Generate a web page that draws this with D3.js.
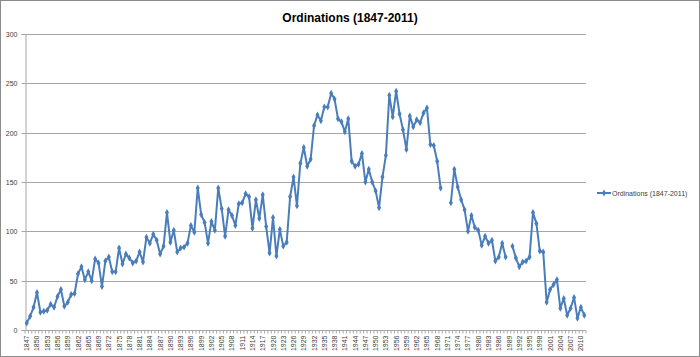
<!DOCTYPE html>
<html><head><meta charset="utf-8">
<script src="https://cdn.jsdelivr.net/npm/d3@7"></script>
<style>body{margin:0;background:#fff}svg{display:block}</style>
</head><body>
<svg id="c" width="700" height="357"></svg>
<script>
const title = "Ordinations (1847-2011)";
const seriesName = "Ordinations (1847-2011)";
const categories = [
 "1847","1848","1849","1850","1851","1852","1853","1854","1855","1856","1857","1858","1859","1860","1861","1862","1863","1864","1865","1866",
 "1868","1869","1870","1871","1872","1873","1874","1875","1876","1877","1878","1879","1880","1881","1882","1883","1884","1885","1886","1887",
 "1888","1889","1890","1891","1892","1893","1894","1895","1896","1897","1898","1899","1900","1901","1902","1903","1904","1905","1906","1907",
 "1908","1909","1910","1911","1912","1913","1914","1915","1916","1917","1918","1919","1920","1921","1922","1923","1924","1925","1926","1927",
 "1928","1929","1930","1931","1932","1933","1934","1935","1936","1937","1938","1939","1940","1941","1942","1943","1944","1945","1946","1947",
 "1948","1949","1950","1951","1952","1953","1954","1955","1956","1957","1958","1959","1960","1961","1962","1963","1964","1965","1966","1967",
 "1968","1969","1970","1971","1972","1973","1974","1975","1976","1977","1978","1979","1980","1981","1982","1983","1984","1985","1986","1987",
 "1988","1989","1990","1991","1992","1993","1994","1995","1996","1997","1998","1999","2000","2001","2002","2003","2004","2005","2006","2007",
 "2008","2009","2010","2011"];
const values = [
 7,14,23,38,18,19,20,26,23,34,41,24,28,36,37,57,64,51,59,50,
 72,68,44,70,74,59,59,83,67,77,73,68,70,79,69,94,88,97,91,77,
 85,119,89,101,79,83,84,88,106,99,144,117,109,88,110,101,144,123,95,122,
 116,106,128,129,138,135,103,132,113,137,105,78,114,75,102,85,89,135,155,126,
 169,185,166,173,207,218,212,226,226,240,234,214,211,201,214,171,166,168,179,150,
 163,150,141,124,155,177,238,216,242,219,203,183,217,206,213,210,220,225,188,187,
 171,144,null,null,129,163,145,132,122,100,116,104,101,86,95,88,91,70,74,88,
 74,null,85,73,64,69,70,74,119,108,80,79,28,41,46,51,22,32,15,22,
 33,12,23,15];
const yTicks = [0,50,100,150,200,250,300];

const svg = d3.select("#c");
const W = 700, H = 357;
const pLeft = 25, pRight = 586, pTop = 34, pBottom = 330;
const color = "#4a7ebb";
const font = "Liberation Sans, Arial, sans-serif";

svg.append("rect").attr("x",0.5).attr("y",0.5).attr("width",W-1).attr("height",H-1)
  .attr("fill","#fff").attr("stroke","#8c8c8c");

const x = d3.scaleBand().domain(categories).range([pLeft,pRight]).padding(0);
const y = d3.scaleLinear().domain([0,300]).range([pBottom,pTop]);
const cx = c => x(c) + x.bandwidth()/2;

// gridlines
svg.append("g").selectAll("line").data(yTicks.filter(d=>d>0)).join("line")
  .attr("x1",pLeft).attr("x2",pRight).attr("y1",d=>Math.round(y(d))+0.5).attr("y2",d=>Math.round(y(d))+0.5)
  .attr("stroke","#a6a6a6").attr("stroke-width",1);

// y axis
const ya = svg.append("g").attr("transform",`translate(${pLeft+0.5},0)`)
  .call(d3.axisLeft(y).tickValues(yTicks).tickSize(4).tickPadding(4));
ya.select(".domain").attr("stroke","#a6a6a6");
ya.selectAll(".tick line").attr("stroke","#a6a6a6");
ya.selectAll(".tick text").attr("font-family",font).attr("font-size","7px").attr("fill","#404040");
ya.selectAll(".tick").attr("transform",d=>`translate(0,${Math.round(y(d))+0.5})`);

// x axis
const xa = svg.append("g").attr("transform",`translate(0,${pBottom+0.5})`);
xa.append("line").attr("x1",pLeft).attr("x2",pRight).attr("stroke","#a6a6a6");
xa.selectAll("line.t").data(categories.concat(["__end"])).join("line").attr("class","t")
  .attr("x1",(d,i)=> i<categories.length ? x(d) : pRight)
  .attr("x2",(d,i)=> i<categories.length ? x(d) : pRight)
  .attr("y1",0).attr("y2",3).attr("stroke","#a6a6a6");
xa.selectAll("text").data(categories.filter((d,i)=>i%3===0)).join("text")
  .attr("transform",d=>`translate(${cx(d)+2.5},5) rotate(-90)`)
  .attr("text-anchor","end").attr("font-family",font).attr("font-size","7px").attr("fill","#404040")
  .text(d=>d);

// line
const pts = categories.map((c,i)=>({c, v: values[i]}));
const line = d3.line().defined(d=>d.v!=null).x(d=>cx(d.c)).y(d=>y(d.v));
svg.append("path").datum(pts).attr("d",line).attr("fill","none")
  .attr("stroke",color).attr("stroke-width",2).attr("stroke-linejoin","round");
const diamond = d3.symbol().type(d3.symbolDiamond).size(14);
svg.append("g").selectAll("path").data(pts.filter(d=>d.v!=null)).join("path")
  .attr("d",diamond).attr("transform",d=>`translate(${cx(d.c)},${y(d.v)})`).attr("fill",color);

// title
svg.append("text").attr("x",350).attr("y",22).attr("text-anchor","middle")
  .attr("font-family",font).attr("font-weight","bold").attr("font-size","12px").attr("fill","#000")
  .text(title);

// legend
const lg = svg.append("g").attr("transform","translate(597,193)");
lg.append("line").attr("x1",0).attr("x2",14).attr("y1",0).attr("y2",0).attr("stroke",color).attr("stroke-width",2);
lg.append("path").attr("d",d3.symbol().type(d3.symbolDiamond).size(14)).attr("transform","translate(7,0)").attr("fill",color);
lg.append("text").attr("x",15).attr("y",2.5).attr("font-family",font).attr("font-size","7px").attr("fill","#404040").text(seriesName);
</script>
</body></html>
